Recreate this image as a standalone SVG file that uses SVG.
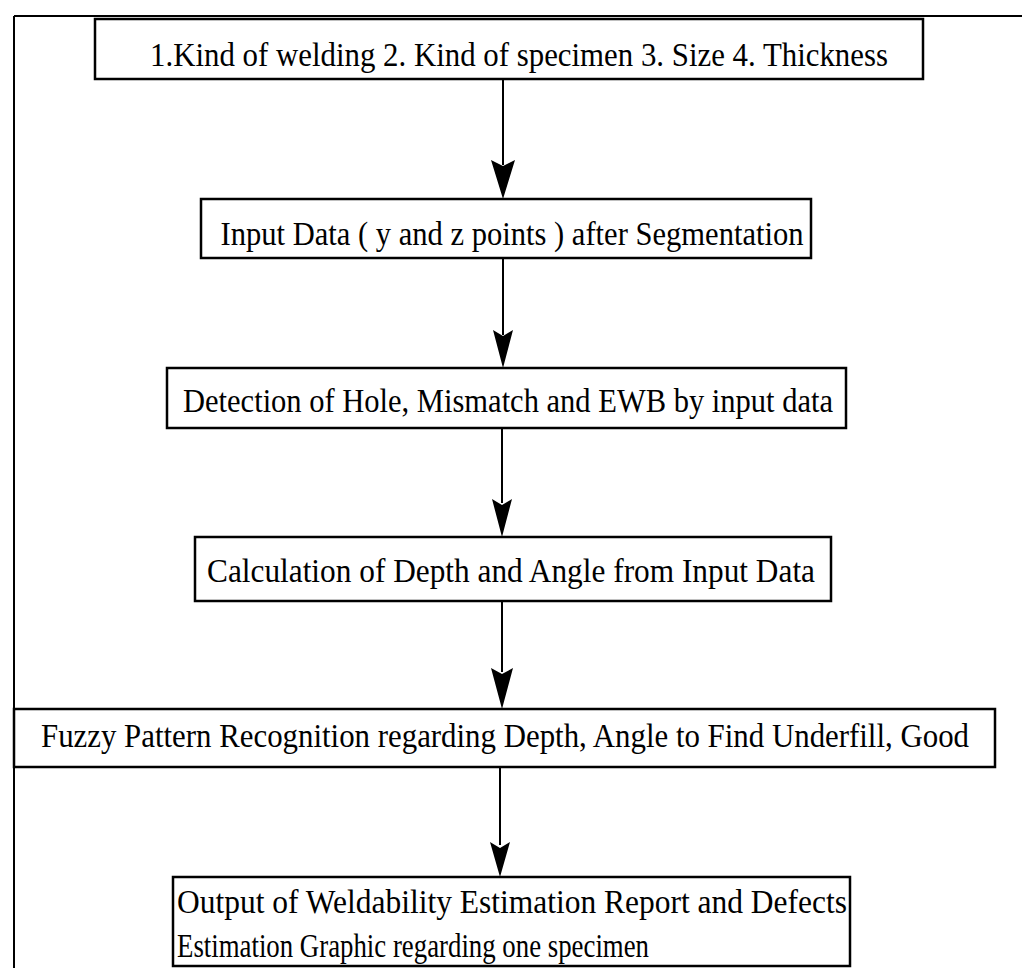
<svg xmlns="http://www.w3.org/2000/svg" width="1022" height="968" viewBox="0 0 1022 968">
<style>
.box{fill:#fff;stroke:#000;stroke-width:2.5}
.t{font-family:"Liberation Serif","Times New Roman",serif;font-size:34px;fill:#000;text-anchor:middle}
.c{stroke:#000;stroke-width:2;fill:none}
.h{fill:#000;stroke:none}
</style>
<rect width="1022" height="968" fill="#fff"/>
<g id="frame">
<line class="c" x1="14" y1="16" x2="1022" y2="16"/>
<line class="c" x1="14" y1="16" x2="14" y2="968"/>
</g>
<g id="connectors">
<line class="c" x1="503" y1="79" x2="503" y2="165"/>
<polygon class="h" points="491,160 503,166 515,160 503,199"/>
<line class="c" x1="503" y1="258" x2="503" y2="335"/>
<polygon class="h" points="493,330 503,336 513,330 503,368"/>
<line class="c" x1="502" y1="428" x2="502" y2="503"/>
<polygon class="h" points="492,499 502,505 512,499 502,537"/>
<line class="c" x1="502" y1="601" x2="502" y2="672"/>
<polygon class="h" points="491,668 502,674 513,668 502,709"/>
<line class="c" x1="500" y1="767" x2="500" y2="845"/>
<polygon class="h" points="490,842 500,848 510,842 500,877"/>
</g>
<g id="n1">
<rect class="box" x="95" y="19" width="828" height="60"/>
<text class="t" x="519" y="66" font-size="38" textLength="738" lengthAdjust="spacingAndGlyphs">1.Kind of welding 2. Kind of specimen 3. Size  4. Thickness</text>
</g>
<g id="n2">
<rect class="box" x="201" y="199" width="610" height="59"/>
<text class="t" x="512" y="245" textLength="583" lengthAdjust="spacingAndGlyphs">Input Data ( y and z points ) after Segmentation</text>
</g>
<g id="n3">
<rect class="box" x="167" y="368" width="679" height="60"/>
<text class="t" x="508" y="412" textLength="650" lengthAdjust="spacingAndGlyphs">Detection of Hole, Mismatch and EWB by input data</text>
</g>
<g id="n4">
<rect class="box" x="195" y="537" width="636" height="64"/>
<text class="t" x="511" y="582" textLength="608" lengthAdjust="spacingAndGlyphs">Calculation of  Depth and Angle  from Input Data</text>
</g>
<g id="n5">
<rect class="box" x="14" y="709" width="981" height="58"/>
<text class="t" x="505" y="747" font-size="29" textLength="928" lengthAdjust="spacingAndGlyphs">Fuzzy  Pattern Recognition regarding Depth, Angle to Find Underfill, Good</text>
</g>
<g id="n6">
<rect class="box" x="173" y="877" width="677" height="89"/>
<text class="t" x="512" y="913" font-size="38" textLength="670" lengthAdjust="spacingAndGlyphs">Output of Weldability Estimation Report and Defects</text>
<text class="t" x="413" y="957" font-size="38" textLength="472" lengthAdjust="spacingAndGlyphs">Estimation Graphic regarding one specimen</text>
</g>
</svg>
